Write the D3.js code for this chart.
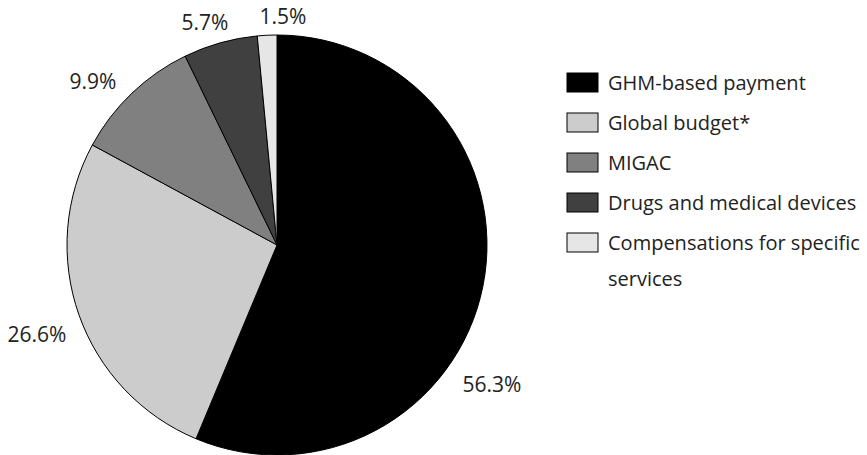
<!DOCTYPE html>
<html><head><meta charset="utf-8">
<script src="https://cdn.jsdelivr.net/npm/d3@7"></script>
<style>body{margin:0;background:#fff}svg{display:block}</style>
</head><body><svg id="c" width="867" height="455"></svg>
<script>
const categories = ["GHM-based payment","Global budget*","MIGAC","Drugs and medical devices","Compensations for specific services"];
const values = [56.3, 26.6, 9.9, 5.7, 1.5];
const valueLabels = ["56.3%","26.6%","9.9%","5.7%","1.5%"];
const colors = ["#000000","#cccccc","#808080","#404040","#e6e6e6"];

const svg = d3.select("#c");
const font = "'Open Sans', sans-serif";
const cx = 277, cy = 245, r = 210;
const pie = d3.pie().sort(null).value(d => d)(values);
const arc = d3.arc().innerRadius(0).outerRadius(r);
const g = svg.append("g").attr("transform", `translate(${cx},${cy})`);
g.selectAll("path").data(pie).join("path")
  .attr("d", arc).attr("fill", (d,i) => colors[i])
  .attr("stroke", "#000").attr("stroke-width", 1);

const labelPos = [[492,392],[37,342],[93,89],[205,30],[283,24]];
g.selectAll("text.lbl").data(pie).join("text")
  .attr("class","lbl")
  .attr("x", (d,i) => labelPos[i][0] - cx)
  .attr("y", (d,i) => labelPos[i][1] - cy)
  .attr("text-anchor","middle")
  .attr("font-family", font).attr("font-size", 21).attr("fill", "#222")
  .text((d,i) => valueLabels[i]);

const leg = svg.append("g").attr("transform","translate(567,73)");
const rows = leg.selectAll("g").data(categories).join("g")
  .attr("transform", (d,i) => `translate(0,${i*40})`);
rows.append("rect").attr("width",31).attr("height",19)
  .attr("fill",(d,i)=>colors[i]).attr("stroke","#000").attr("stroke-width",1);
rows.append("text").attr("x",41).attr("y",17)
  .attr("font-family", font).attr("font-size", 20).attr("fill","#222")
  .each(function(d){
    const t = d3.select(this);
    if (d.startsWith("Compensations")) {
      t.append("tspan").attr("x",41).text("Compensations for specific");
      t.append("tspan").attr("x",41).attr("dy",36).text("services");
    } else t.text(d);
  });
</script></body></html>
